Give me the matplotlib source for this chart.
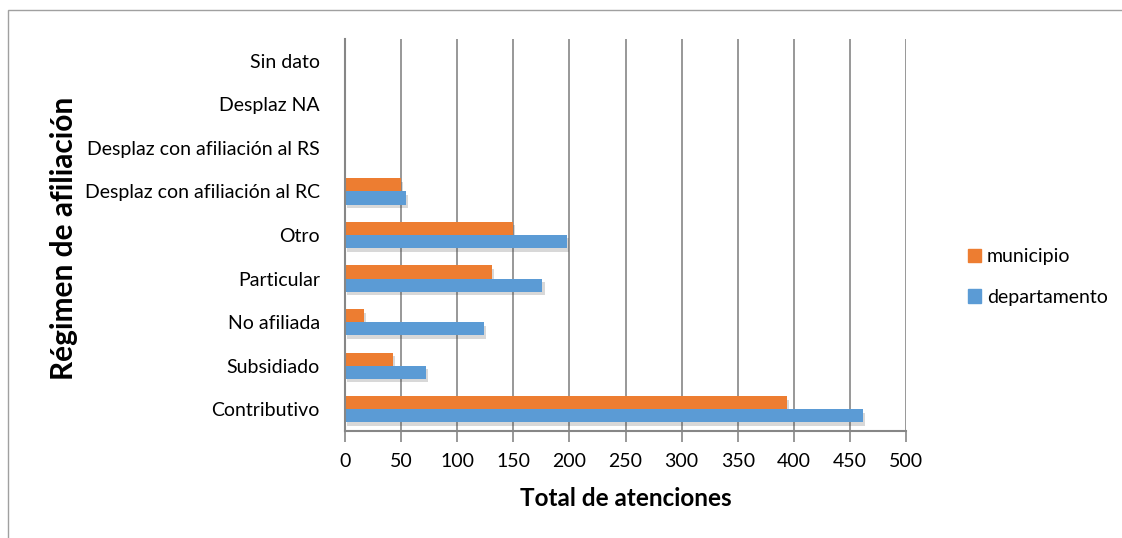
import numpy as np
import matplotlib.pyplot as plt
from matplotlib.patches import Rectangle, Patch
import matplotlib.patheffects as pe

plt.rcParams['font.family'] = ['Lato', 'DejaVu Sans']

# data, bottom to top
categorias = ['Contributivo', 'Subsidiado', 'No afiliada', 'Particular', 'Otro',
              'Desplaz con afiliación al RC', 'Desplaz con afiliación al RS',
              'Desplaz NA', 'Sin dato']
municipio = [394, 43, 17, 131, 150, 50, 0, 0, 0]
departamento = [462, 72, 124, 176, 198, 54, 0, 0, 0]

c_mun = '#ED7D31'
c_dep = '#5B9BD5'

fig = plt.figure(figsize=(11.22, 5.38), dpi=100)
ax = fig.add_axes([345/1122, 1 - 431/538, 561/1122, 392/538])

y = np.arange(len(categorias))
h = 0.3
shadow = [pe.SimplePatchShadow(offset=(1.5, -2.5), shadow_rgbFace='#404040', alpha=0.2),
          pe.Normal()]
ax.barh(y + h/2, municipio, height=h, color=c_mun, label='municipio',
        zorder=3, path_effects=shadow)
ax.barh(y - h/2, departamento, height=h, color=c_dep, label='departamento',
        zorder=3, path_effects=shadow)

ax.set_xlim(0, 500)
ax.set_ylim(-0.5, len(categorias) - 0.5)
ax.set_xticks(np.arange(0, 501, 50))
ax.set_yticks(y)
ax.set_yticklabels(categorias)
ax.tick_params(axis='y', length=0, pad=18, labelsize=14)
ax.tick_params(axis='x', length=8, direction='out', color='#868686',
               labelsize=14, pad=8, width=1.2)
ax.grid(axis='x', color='#868686', linewidth=1.2, zorder=0)
for s in ['top', 'right']:
    ax.spines[s].set_visible(False)
for s in ['left', 'bottom']:
    ax.spines[s].set_color('#868686')
    ax.spines[s].set_linewidth(1.5)
    ax.spines[s].set_zorder(4)

ax.set_xlabel('Total de atenciones', fontsize=17.5, fontweight='bold', labelpad=12)
fig.text(64/1122, 1 - 238/538, 'Régimen de afiliación', rotation=90,
         fontsize=21.5, fontweight='bold', ha='center', va='center')

handles = [Patch(color=c_mun, label='municipio'),
           Patch(color=c_dep, label='departamento')]
fig.legend(handles=handles, loc='center left',
           bbox_to_anchor=(950/1122, 1 - 277/538), frameon=False,
           fontsize=14, handlelength=0.7, handleheight=0.7,
           handletextpad=0.3, labelspacing=1.2)

fig.add_artist(Rectangle((8/1122, -0.1), 1.2, 1.1 - 10/538, transform=fig.transFigure,
                         fill=False, edgecolor='#a0a0a0', linewidth=1))

fig.savefig('out.png', dpi=100)
